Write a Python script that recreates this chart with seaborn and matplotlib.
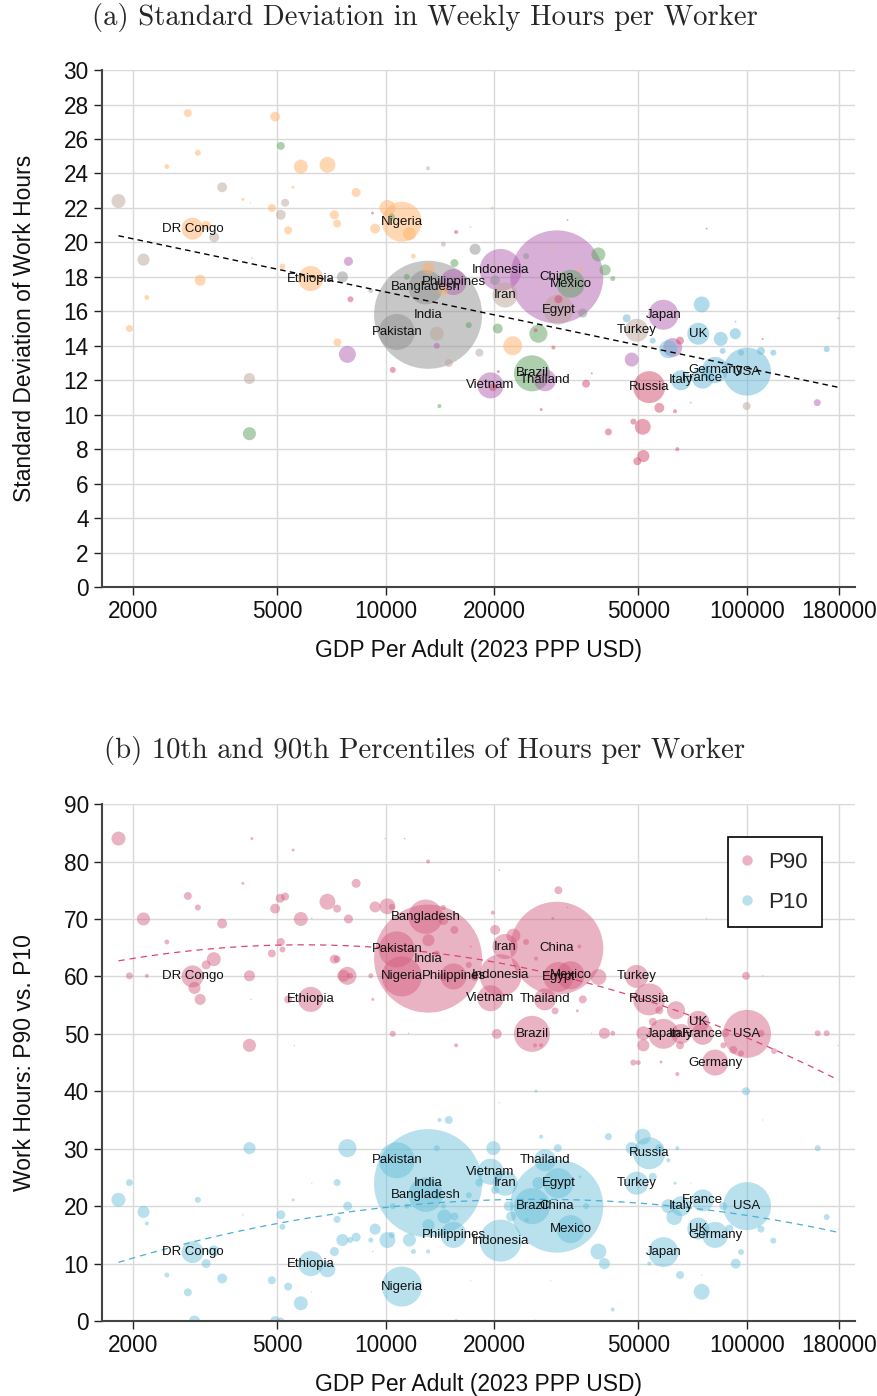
import numpy as np
import pandas as pd
import seaborn as sns
import matplotlib.pyplot as plt
from matplotlib.lines import Line2D
from matplotlib.ticker import NullLocator

# labelled countries: GDP per adult, population (m), region, SD of hours, P90, P10
names = ["DR Congo", "Ethiopia", "Nigeria", "Bangladesh", "Philippines", "India", "Pakistan",
         "Indonesia", "China", "Mexico", "Iran", "Egypt", "Japan", "Turkey", "UK", "Brazil",
         "Thailand", "Vietnam", "Russia", "Italy", "France", "Germany", "USA"]
gdp = [2920, 6200, 11080, 12900, 15400, 13100, 10730, 20800, 29750, 32500, 21400, 30050,
       58700, 49500, 73300, 25400, 27600, 19500, 53600, 65700, 75400, 81600, 100000]
pop = [59, 77, 196, 145, 83, 1430, 159, 216, 1060, 96, 77, 110, 110, 65, 59, 159, 59, 83,
       125, 49, 59, 83, 282]
region = ["SSA", "SSA", "SSA", "SAS", "EAP", "SAS", "SAS", "EAP", "EAP", "LAC", "MNA", "MNA",
          "EAP", "MNA", "WST", "LAC", "EAP", "EAP", "ECA", "WST", "WST", "WST", "WST"]
sd = [20.8, 17.9, 21.2, 17.4, 17.7, 15.8, 14.8, 18.4, 18.0, 17.6, 16.95, 16.1, 15.8, 14.9,
      14.7, 12.4, 12.0, 11.7, 11.6, 12.0, 12.15, 12.6, 12.5]
p90 = [60, 56, 60, 70.4, 60, 63.1, 64.7, 60.2, 64.9, 60.2, 65.2, 59.9, 50, 60, 52.1, 50, 56,
       56.2, 56, 50, 50, 45, 50]
p10 = [12, 10, 6, 22, 15, 24, 28, 14, 20, 16, 24, 24, 12, 24, 16.1, 20, 28, 26, 29.2, 20,
       21, 15, 20]

# other countries, panel (a)
a_gdp = [1821, 2834, 4942, 5125, 3020, 5822, 6898, 2479, 3526, 5533, 8282, 4023, 4840, 5267,
         10109, 5125, 7211, 7337, 10396, 9189, 5369, 9347, 11630, 3184, 3351, 15660, 17152,
         2136, 4269, 5178, 7886, 14442, 17674, 15491, 13127, 11930, 7589, 3065, 7987, 9094,
         2182, 1953, 7352, 7834, 13848, 13848, 16978, 18166, 14442, 11438, 10462, 4196, 4196,
         14081, 14949, 24460, 38780, 40470, 42500, 28930, 20080, 30060, 35110, 20425, 26460,
         26000, 22470, 29110, 35850, 37180, 19730, 31830, 77340, 34510, 46460, 74910, 84580,
         92820, 118260, 92900, 166180, 178900, 110500, 65250, 62270, 60560, 54840, 47960,
         85660, 96240, 109300, 20500, 26920, 99800, 156500, 57180, 63200, 69860, 48460,
         51460, 41330, 51660, 49700, 64140, 13100, 10006, 4220, 19800]
a_region = ["MNA", "SSA", "SSA", "LAC", "SSA", "SSA", "SSA", "SSA", "MNA", "SSA", "SSA", "SSA",
            "SSA", "MNA", "SSA", "MNA", "SSA", "SSA", "LAC", "EAP", "SSA", "SSA", "SSA", "SSA",
            "MNA", "ECA", "SSA", "MNA", "SSA", "SSA", "EAP", "MNA", "SAS", "LAC", "SSA", "SSA",
            "SAS", "SSA", "ECA", "MNA", "SSA", "SSA", "SSA", "EAP", "MNA", "EAP", "LAC", "MNA",
            "SSA", "LAC", "ECA", "MNA", "LAC", "LAC", "MNA", "SAS", "LAC", "LAC", "LAC", "SSA",
            "SAS", "ECA", "SAS", "LAC", "LAC", "ECA", "SSA", "ECA", "ECA", "ECA", "SSA", "SAS",
            "LAC", "SSA", "WST", "WST", "WST", "WST", "WST", "WST", "WST", "WST", "ECA", "ECA",
            "EAP", "WST", "WST", "EAP", "WST", "WST", "WST", "ECA", "ECA", "MNA", "EAP", "ECA",
            "ECA", "WST", "ECA", "ECA", "ECA", "ECA", "ECA", "ECA", "MNA", "SSA", "SSA", "ECA"]
a_sd = [22.4, 27.5, 27.3, 25.6, 25.2, 24.4, 24.5, 24.4, 23.2, 23.2, 22.9, 22.5, 22.0, 22.3,
        22.0, 21.6, 21.6, 21.1, 21.5, 21.7, 20.7, 20.8, 20.5, 21.0, 20.3, 20.6, 20.9, 19.0,
        19.1, 18.6, 18.9, 19.9, 19.6, 18.8, 18.5, 19.2, 18.0, 17.8, 16.7, 17.2, 16.8, 15.0,
        14.2, 13.5, 14.7, 14.0, 15.2, 13.6, 17.2, 18.0, 12.6, 12.1, 8.9, 10.5, 13.0, 19.2,
        19.3, 18.4, 17.9, 19.7, 17.8, 16.7, 15.9, 15.0, 14.7, 14.9, 14.0, 13.9, 11.8, 12.4,
        22.0, 21.3, 20.8, 18.4, 15.6, 16.4, 14.4, 14.7, 13.6, 15.4, 13.8, 15.6, 14.4, 14.3,
        13.9, 13.8, 14.3, 13.2, 13.7, 13.6, 13.7, 12.5, 10.3, 10.5, 10.7, 10.4, 10.2, 10.7,
        9.6, 9.3, 9.0, 7.6, 7.3, 8.0, 24.3, 25.9, 22.3, 11.6]
a_pop = [24, 7.8, 12, 7.8, 4.4, 24, 31, 3, 12, 1.1, 10, 1.1, 7.8, 7.8, 31, 12, 10, 7.8, 4.4,
         1.1, 7.8, 12, 21, 10, 12, 2, 0.5, 18, 0.5, 4.4, 10, 3, 15, 7.8, 18, 3, 15, 15, 4.4, 3,
         3, 6, 7.8, 35, 24, 4.4, 4.4, 7.8, 12, 4.4, 4.4, 15, 21, 2, 7.8, 4.4, 24, 15, 3, 1.1,
         12, 7.8, 10, 12, 40, 2, 44, 2, 7.8, 0.5, 1.1, 0.5, 0.5, 2, 7.8, 31, 24, 15, 4.4, 0.5,
         4.4, 0.5, 0.5, 7.8, 44, 40, 4.4, 24, 4.4, 4.4, 7.8, 1.1, 1.1, 7.8, 6, 12, 2, 0.5, 4.4,
         31, 6, 18, 7.8, 2, 2, 0.3, 0.3, 7.8]

# other countries, panel (b) P90
h_gdp = [1821, 4260, 5543, 13100, 11290, 9963, 2834, 3020, 2136, 3526, 4023, 5103, 5267, 4942,
         5822, 6245, 6898, 7337, 7886, 8282, 9347, 10109, 10396, 14442, 15491, 13127, 2479,
         5125, 5178, 4840, 3344, 3184, 1953, 2182, 4196, 7211, 7337, 7637, 7834, 7970, 9094,
         2956, 3065, 5369, 4240, 9212, 10462, 4196, 5589, 15660, 11560, 13848, 14442, 16978,
         17200, 17640, 14442, 30060, 31830, 20630, 19790, 29000, 20080, 22560, 24460, 26070,
         34350, 38780, 35110, 33910, 29420, 20300, 25900, 26920, 40290, 42500, 37180, 51660,
         51660, 48460, 50030, 57800, 64140, 54840, 63600, 57180, 65250, 86920, 85990, 91620,
         96240, 109300, 118800, 156900, 166180, 99370, 110500, 77340, 178900]
h_val = [84.0, 84.0, 82.0, 80.0, 84.0, 84.0, 74.0, 72.0, 70.0, 69.2, 76.2, 73.6, 73.9, 71.8,
         70.0, 70.1, 73.0, 71.8, 70.0, 76.2, 72.1, 72.2, 72.1, 72.0, 68.1, 66.3, 66.0, 66.0,
         64.7, 64.0, 63.0, 62.0, 60.1, 60.1, 60.1, 63.0, 63.0, 60.1, 60.1, 60.1, 60.1, 58.0,
         56.0, 56.0, 56.0, 56.0, 50.0, 48.0, 48.0, 48.0, 50.1, 64.0, 59.9, 62.0, 65.2, 59.9,
         69.8, 75.0, 72.0, 78.5, 71.1, 70.1, 68.1, 67.1, 66.0, 63.1, 65.2, 59.9, 56.0, 54.0,
         54.0, 50.0, 48.0, 48.0, 50.1, 50.1, 50.1, 50.1, 48.0, 45.0, 45.0, 45.1, 43.0, 52.1,
         54.1, 54.1, 48.0, 50.1, 48.0, 47.2, 46.6, 50.1, 47.0, 50.1, 50.1, 60.1, 60.1, 70.1,
         48.0]
h_pop = [24, 1.1, 1.1, 2, 0.3, 0.2, 7.8, 4.4, 21, 12, 1.1, 10, 7.8, 12, 24, 0.2, 31, 7.8, 10,
         10, 15, 31, 4.4, 3, 7.8, 18, 3, 7.8, 4.4, 7.8, 24, 10, 6, 2, 15, 10, 6, 18, 40, 4.4,
         3, 18, 15, 7.8, 0.2, 1.1, 4.4, 21, 0.2, 2, 0.2, 4.4, 7.8, 4.4, 0.5, 7.8, 12, 7.8, 0.3,
         0.3, 2, 1.1, 12, 24, 4.4, 2, 2, 31, 7.8, 1.1, 6, 12, 2, 2, 15, 3, 0.2, 24, 18, 4.4, 3,
         1.1, 2, 7.8, 40, 7.8, 7.8, 7.8, 4.4, 7.8, 4.4, 6, 4.4, 4.4, 4.4, 7.8, 0.2, 0.2, 0.2]

# other countries, panel (b) P10
l_gdp = [1821, 1953, 2136, 2182, 3020, 2479, 2834, 2956, 3184, 3344, 3526, 4023, 4196, 4942,
         5125, 4840, 5125, 5178, 5369, 5543, 5822, 6245, 6898, 7211, 7337, 7337, 7589, 7850,
         7834, 7970, 8282, 9094, 9212, 9347, 10109, 10396, 10462, 11438, 11630, 11930, 13100,
         13127, 13848, 14081, 14949, 14536, 15491, 16978, 17200, 15660, 18166, 13848, 14442,
         6230, 26070, 99370, 20630, 26920, 29940, 41330, 51460, 47960, 57180, 64140, 156900,
         110500, 19860, 60560, 54840, 63200, 69860, 34510, 35850, 60560, 62920, 85990, 89340,
         109300, 118260, 96240, 93060, 166180, 178900, 38780, 40290, 53640, 65250, 74910,
         74910, 42500, 28650, 25900, 22230, 21900, 24600, 26460, 20080]
l_val = [21.1, 24.1, 19.0, 17.0, 21.1, 8.0, 5.0, 0.0, 10.0, 12.2, 7.4, 18.5, 30.1, 0.0, 0.0,
         7.1, 18.5, 16.4, 6.0, 21.1, 3.1, 24.0, 9.0, 12.1, 17.7, 24.1, 14.1, 20.0, 30.1, 14.1,
         14.6, 14.1, 12.1, 16.0, 14.1, 15.0, 20.0, 20.0, 14.1, 12.1, 12.1, 16.7, 30.1, 35.0,
         35.0, 18.2, 18.2, 21.9, 7.0, 0.0, 24.1, 21.9, 20.0, 5.1, 40.0, 40.0, 38.0, 32.1, 30.1,
         32.1, 32.1, 30.1, 30.1, 30.1, 30.1, 35.0, 30.1, 28.0, 25.1, 24.0, 24.0, 25.1, 20.0,
         20.0, 18.1, 20.0, 16.1, 16.0, 14.0, 12.0, 10.0, 18.1, 16.0, 12.1, 10.0, 10.0, 8.0, 8.0,
         5.1, 2.0, 7.0, 0.0, 18.2, 20.0, 17.6, 24.0, 22.8]
l_pop = [24, 6, 18, 2, 4.4, 3, 7.8, 15, 10, 15, 12, 0.3, 18, 12, 6, 7.8, 10, 4.4, 7.8, 1.1, 24,
         0.2, 31, 10, 6, 6, 18, 10, 40, 4.4, 10, 3, 0.3, 15, 31, 4.4, 4.4, 3, 21, 3, 2, 18, 4.4,
         2, 7.8, 24, 7.8, 4.4, 0.2, 2, 7.8, 7.8, 3, 0.2, 1.1, 7.8, 0.2, 2, 7.8, 6, 31, 18, 7.8,
         2, 4.4, 0.2, 24, 2, 7.8, 1.1, 0.2, 1.1, 4.4, 24, 31, 7.8, 7.8, 6, 4.4, 4.4, 12, 4.4,
         0.2, 31, 15, 2, 7.8, 0.2, 31, 2, 0.2, 1.1, 12, 12, 2, 18, 7.8]

# fitted trend coefficients in log10(GDP)
sd_fit = [-4.415, 34.78]
p90_fit = [-10.72, 80.85, -86.94]
p10_fit = [-8.227, 72.657, -139.22]

xticks = [2000, 5000, 10000, 20000, 50000, 100000, 180000]

region_colors = {"SSA": "#ffb369", "SAS": "#919191", "EAP": "#b161b1", "LAC": "#5fa15f",
                 "MNA": "#bda59b", "ECA": "#d14b6d", "WST": "#65b9d7"}
pink = "#d2587a"
blue = "#63bcd9"

sns.set_theme(style="whitegrid")
plt.rcParams['font.family'] = ['Liberation Sans', 'DejaVu Sans']
plt.rcParams['axes.edgecolor'] = '#444444'

size_kw = dict(sizes=(0, 6052), size_norm=(0, 1430), linewidth=0, legend=False)

fig = plt.figure(figsize=(8.78, 13.96), dpi=100)
ax1 = fig.add_axes([0.1162, 0.5795, 0.8576, 0.3703])
ax2 = fig.add_axes([0.1162, 0.0537, 0.8576, 0.3703])

# panel (a)
top = pd.DataFrame({"gdp": gdp + a_gdp, "pop": pop + a_pop,
                    "region": region + a_region, "sd": sd + a_sd})
top = top.sort_values("pop", ascending=False)
sns.scatterplot(data=top, x="gdp", y="sd", hue="region", palette=region_colors,
                size="pop", alpha=0.5, ax=ax1, **size_kw)
grid = np.logspace(np.log10(min(top.gdp)), np.log10(max(top.gdp)), 200)
sns.lineplot(x=grid, y=np.polyval(sd_fit, np.log10(grid)), ax=ax1, color="black",
             linewidth=1.0, linestyle=(0, (4, 3)))
for n, x, y in zip(names, gdp, sd):
    ax1.text(x, y, n, ha="center", va="center", fontsize=9.5, color="#111111")

# panel (b)
hi = pd.DataFrame({"gdp": gdp + h_gdp, "pop": pop + h_pop, "val": p90 + h_val})
lo = pd.DataFrame({"gdp": gdp + l_gdp, "pop": pop + l_pop, "val": p10 + l_val})
hi = hi.sort_values("pop", ascending=False)
lo = lo.sort_values("pop", ascending=False)
sns.scatterplot(data=hi, x="gdp", y="val", color=pink, size="pop", alpha=0.45, ax=ax2, **size_kw)
sns.scatterplot(data=lo, x="gdp", y="val", color=blue, size="pop", alpha=0.45, ax=ax2, **size_kw)
sns.lineplot(x=grid, y=np.polyval(p90_fit, np.log10(grid)), ax=ax2, color="#d9466f",
             linewidth=0.9, linestyle=(0, (5, 4)))
sns.lineplot(x=grid, y=np.polyval(p10_fit, np.log10(grid)), ax=ax2, color="#4aaed6",
             linewidth=0.9, linestyle=(0, (5, 4)))
for n, x, y in zip(names, gdp, p90):
    ax2.text(x, y, n, ha="center", va="center", fontsize=9.5, color="#111111")
for n, x, y in zip(names, gdp, p10):
    ax2.text(x, y, n, ha="center", va="center", fontsize=9.5, color="#111111")

handles = [Line2D([], [], marker="o", linestyle="", markersize=7.5, markeredgewidth=0,
                  markerfacecolor=pink, alpha=0.45),
           Line2D([], [], marker="o", linestyle="", markersize=7.5, markeredgewidth=0,
                  markerfacecolor=blue, alpha=0.45)]
leg = ax2.legend(handles, ["P90", "P10"], loc="upper right", bbox_to_anchor=(0.956, 0.936),
                 borderaxespad=0, fontsize=16, fancybox=False, framealpha=1,
                 edgecolor="black", borderpad=0.65, handletextpad=0.75, handlelength=0.4,
                 labelspacing=0.85)
leg.get_frame().set_linewidth(1.2)


def style(ax, ymax, ystep, ylabel):
    ax.set_xscale("log")
    ax.set_xlim(1640, 199000)
    ax.set_ylim(0, ymax)
    ax.set_xticks(xticks)
    ax.set_xticklabels([str(t) for t in xticks])
    ax.xaxis.set_minor_locator(NullLocator())
    ax.set_yticks(np.arange(0, ymax + 1, ystep))
    ax.grid(True, color="#d9d9d9", linewidth=1.0)
    for s in ["top", "right"]:
        ax.spines[s].set_visible(False)
    for s in ["left", "bottom"]:
        ax.spines[s].set_color("#444444")
        ax.spines[s].set_linewidth(1.5)
    ax.tick_params(axis="both", which="major", length=6, width=1.0, color="#222222",
                   labelsize=16.3, labelcolor="#111111", left=True, bottom=True)
    ax.set_xlabel("GDP Per Adult (2023 PPP USD)", fontsize=16.5, color="#111111")
    ax.set_ylabel(ylabel, fontsize=16.5, color="#111111")
    ax.xaxis.set_label_coords(0.5, -0.1)
    ax.yaxis.set_label_coords(-0.088, 0.5)


style(ax1, 30, 2, "Standard Deviation of Work Hours")
style(ax2, 90, 10, "Work Hours: P90 vs. P10")

fig.text(0.484, 0.9875, "(a) Standard Deviation in Weekly Hours per Worker",
         ha="center", va="center", fontsize=20.7, family="cmr10")
fig.text(0.484, 0.4625, "(b) 10th and 90th Percentiles of Hours per Worker",
         ha="center", va="center", fontsize=20.7, family="cmr10")

fig.savefig("out.png", dpi=100)
